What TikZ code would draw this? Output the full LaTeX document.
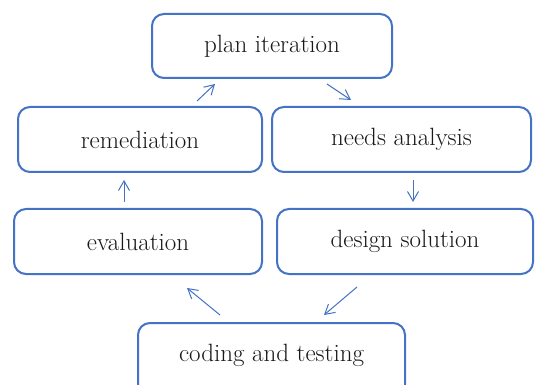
\documentclass[tikz,border=0pt]{standalone}
\usepackage{fontspec}
\setmainfont{Latin Modern Roman}
\usetikzlibrary{arrows.meta}
\definecolor{boxblue}{RGB}{68,114,196}
\begin{document}
\begin{tikzpicture}[x=1pt,y=-1pt,
  lbl/.style={font=\fontsize{25}{28}\selectfont,text=black!90},
  stage/.style={draw=boxblue,line width=2pt,rounded corners=12pt,fill=white,inner sep=0pt,lbl},
  flow/.style={draw=boxblue,line width=1pt,-{Straight Barb[angle=60:11pt,line width=1pt]}}]
\useasboundingbox (0,0) rectangle (536,385);
\begin{scope}
\clip (0,0) rectangle (536,385);
\node[stage,minimum width=240pt,minimum height=64pt] (plan) at (272,46) {plan iteration};
\node[stage,minimum width=244pt,minimum height=65pt] (rem) at (140,139.5) {remediation};
\node[stage,minimum width=259pt,minimum height=65pt] (needs) at (401.5,139.5) {needs analysis};
\node[stage,minimum width=248pt,minimum height=65pt] (eval) at (138,241.5) {evaluation};
\node[stage,minimum width=256pt,minimum height=65pt] (design) at (405,241.5) {design solution};
\node[stage,minimum width=267pt,minimum height=76pt,anchor=north] (code) at (271.5,322) {};
\node[lbl] (codetext) at (271.5,355) {coding and testing};
\end{scope}
\coordinate (a1) at (197,101); \coordinate (a2) at (215,84);
\coordinate (b1) at (327,84); \coordinate (b2) at (351,100);
\coordinate (c1) at (413,180); \coordinate (c2) at (413,202);
\coordinate (d1) at (357,287); \coordinate (d2) at (324,315);
\coordinate (e1) at (220,315); \coordinate (e2) at (187,288);
\coordinate (f1) at (124,202); \coordinate (f2) at (124,180);
\draw[flow] (a1) -- (a2);
\draw[flow] (b1) -- (b2);
\draw[flow] (c1) -- (c2);
\draw[flow] (d1) -- (d2);
\draw[flow] (e1) -- (e2);
\draw[flow] (f1) -- (f2);
\end{tikzpicture}
\end{document}
